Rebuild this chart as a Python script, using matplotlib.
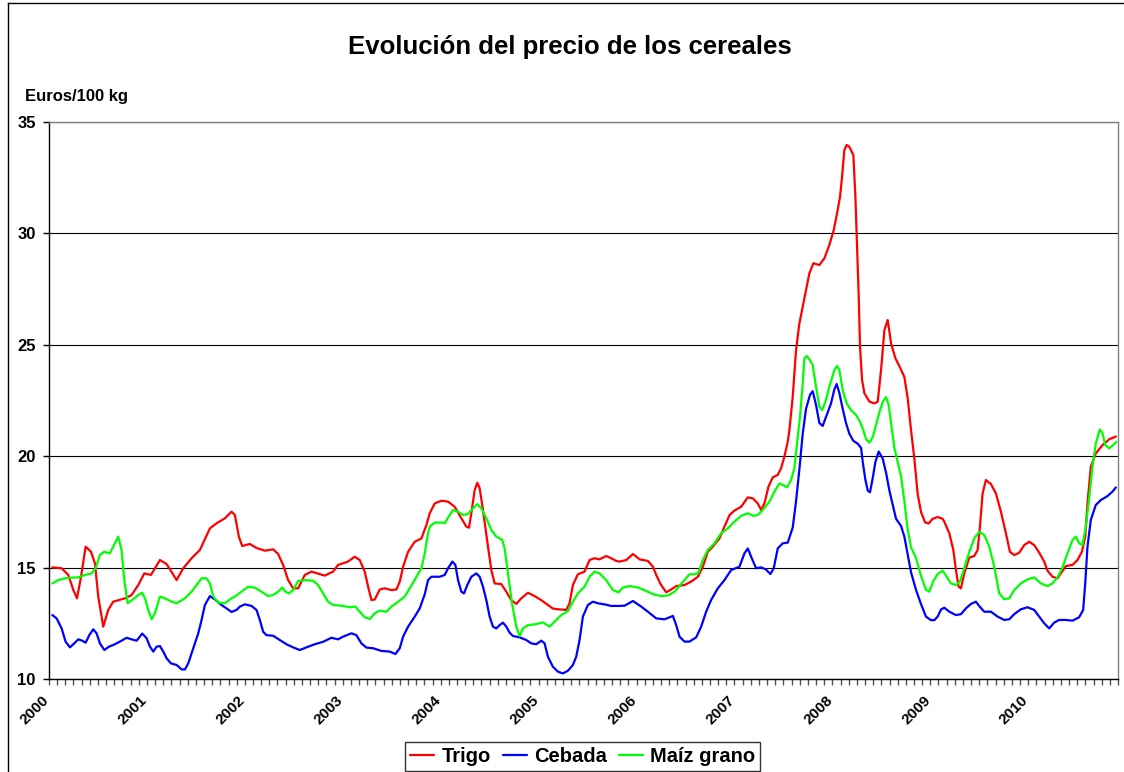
import numpy as np
import matplotlib
matplotlib.use("Agg")
import matplotlib.pyplot as plt
from matplotlib.lines import Line2D
from matplotlib.transforms import ScaledTranslation

plt.rcParams['font.family'] = ['Liberation Sans', 'DejaVu Sans']

title = "Evolución del precio de los cereales"
y_label = "Euros/100 kg"
series_names = ["Trigo", "Cebada", "Maíz grano"]
series_colors = ["#FF0000", "#0000FF", "#00FF00"]
years = list(range(2000, 2011))
y_ticks = [10, 15, 20, 25, 30, 35]

# time in years since January 2000, price in euros/100 kg
trigo_t = [0.034, 0.129, 0.197, 0.248, 0.286, 0.327, 0.374, 0.429, 0.469, 0.503, 0.554, 0.605, 0.656, 0.776, 0.844,
           0.912, 0.973, 1.041, 1.133, 1.201, 1.303, 1.371, 1.456, 1.541, 1.643, 1.711, 1.796, 1.864, 1.898, 1.939,
           1.973, 2.051, 2.119, 2.204, 2.289, 2.340, 2.391, 2.442, 2.493, 2.544, 2.578, 2.612, 2.680, 2.816, 2.901,
           2.952, 3.054, 3.122, 3.173, 3.224, 3.259, 3.293, 3.327, 3.378, 3.429, 3.497, 3.548, 3.582, 3.616, 3.667,
           3.735, 3.803, 3.854, 3.888, 3.939, 4.007, 4.075, 4.143, 4.211, 4.262, 4.289, 4.313, 4.347, 4.374, 4.398,
           4.432, 4.483, 4.517, 4.551, 4.619, 4.670, 4.721, 4.772, 4.823, 4.891, 4.959, 5.027, 5.095, 5.146, 5.197,
           5.282, 5.316, 5.350, 5.401, 5.469, 5.520, 5.571, 5.622, 5.690, 5.741, 5.792, 5.827, 5.895, 5.963, 6.031,
           6.116, 6.167, 6.201, 6.245, 6.303, 6.354, 6.405, 6.490, 6.558, 6.626, 6.677, 6.728, 6.779, 6.847, 6.898,
           6.950, 7.000, 7.068, 7.136, 7.187, 7.238, 7.272, 7.306, 7.347, 7.391, 7.442, 7.476, 7.510, 7.544, 7.561,
           7.595, 7.629, 7.663, 7.697, 7.731, 7.765, 7.806, 7.867, 7.918, 7.969, 8.014, 8.054, 8.078, 8.099, 8.122,
           8.146, 8.173, 8.214, 8.235, 8.252, 8.269, 8.282, 8.303, 8.327, 8.378, 8.429, 8.463, 8.497, 8.531, 8.565,
           8.599, 8.643, 8.684, 8.735, 8.769, 8.803, 8.837, 8.871, 8.905, 8.946, 8.983, 9.024, 9.075, 9.126, 9.143,
           9.194, 9.235, 9.262, 9.289, 9.313, 9.347, 9.398, 9.449, 9.483, 9.507, 9.534, 9.568, 9.619, 9.670, 9.721,
           9.772, 9.813, 9.857, 9.908, 9.959, 10.010, 10.061, 10.112, 10.163, 10.197, 10.248, 10.299, 10.333, 10.384,
           10.452, 10.503, 10.548, 10.582, 10.605, 10.639, 10.690, 10.759, 10.827, 10.895]
trigo_v = [15.01, 14.97, 14.67, 14.00, 13.62, 14.59, 15.94, 15.71, 15.19, 13.70, 12.35, 13.10, 13.47, 13.62, 13.77,
           14.22, 14.74, 14.67, 15.34, 15.16, 14.44, 14.97, 15.42, 15.79, 16.76, 16.99, 17.21, 17.51, 17.36, 16.39,
           15.97, 16.06, 15.88, 15.76, 15.82, 15.61, 15.12, 14.44, 14.07, 14.07, 14.37, 14.67, 14.82, 14.64, 14.82,
           15.12, 15.27, 15.49, 15.34, 14.82, 14.14, 13.54, 13.57, 14.02, 14.07, 13.99, 14.02, 14.37, 15.04, 15.71,
           16.16, 16.31, 16.91, 17.44, 17.88, 18.00, 17.96, 17.73, 17.21, 16.84, 16.79, 17.44, 18.48, 18.81, 18.56,
           17.58, 15.94, 14.89, 14.29, 14.26, 13.92, 13.54, 13.37, 13.62, 13.87, 13.72, 13.54, 13.32, 13.16, 13.13,
           13.10, 13.40, 14.22, 14.70, 14.82, 15.34, 15.42, 15.37, 15.52, 15.42, 15.30, 15.27, 15.34, 15.61, 15.37,
           15.30, 15.04, 14.67, 14.26, 13.89, 14.02, 14.17, 14.22, 14.37, 14.59, 15.04, 15.71, 15.94, 16.31, 16.84,
           17.36, 17.56, 17.73, 18.15, 18.11, 17.88, 17.59, 17.88, 18.63, 19.05, 19.16, 19.46, 19.98, 20.65, 21.17,
           22.67, 24.77, 25.96, 26.71, 27.46, 28.21, 28.66, 28.58, 28.88, 29.48, 30.15, 31.05, 31.65, 32.55, 33.74,
           33.97, 33.89, 33.52, 31.65, 29.40, 27.16, 24.92, 23.42, 22.82, 22.45, 22.37, 22.45, 23.87, 25.66, 26.11,
           25.07, 24.40, 24.04, 23.56, 22.60, 21.17, 19.89, 18.30, 17.50, 17.03, 16.98, 17.19, 17.27, 17.19, 17.06,
           16.54, 15.79, 14.89, 14.14, 14.07, 14.74, 15.45, 15.52, 15.79, 16.84, 18.33, 18.93, 18.75, 18.33, 17.51,
           16.54, 15.71, 15.56, 15.67, 16.01, 16.16, 16.01, 15.67, 15.27, 14.86, 14.59, 14.52, 14.74, 15.07,
           15.12, 15.34, 15.71, 16.39, 17.88, 19.53, 20.13, 20.50, 20.76, 20.88]

cebada_t = [0.034, 0.078, 0.129, 0.170, 0.214, 0.265, 0.299, 0.340, 0.374, 0.412, 0.452, 0.486, 0.520, 0.565, 0.612,
            0.673, 0.741, 0.793, 0.844, 0.895, 0.952, 0.997, 1.031, 1.065, 1.099, 1.133, 1.167, 1.201, 1.245, 1.303,
            1.354, 1.388, 1.422, 1.473, 1.524, 1.558, 1.592, 1.643, 1.694, 1.762, 1.813, 1.864, 1.915, 1.949, 2.000,
            2.068, 2.119, 2.153, 2.187, 2.221, 2.289, 2.357, 2.425, 2.493, 2.561, 2.629, 2.714, 2.799, 2.884, 2.952,
            3.003, 3.088, 3.139, 3.190, 3.241, 3.310, 3.395, 3.480, 3.537, 3.582, 3.616, 3.667, 3.735, 3.786, 3.837,
            3.871, 3.905, 3.990, 4.041, 4.075, 4.119, 4.150, 4.177, 4.211, 4.238, 4.272, 4.313, 4.364, 4.398, 4.432,
            4.466, 4.500, 4.534, 4.568, 4.602, 4.636, 4.670, 4.704, 4.738, 4.806, 4.874, 4.925, 4.976, 5.027, 5.061,
            5.095, 5.146, 5.197, 5.248, 5.299, 5.350, 5.384, 5.418, 5.452, 5.503, 5.554, 5.605, 5.673, 5.741, 5.827,
            5.878, 5.963, 6.048, 6.116, 6.201, 6.286, 6.337, 6.371, 6.405, 6.439, 6.490, 6.541, 6.609, 6.660, 6.711,
            6.762, 6.830, 6.898, 6.966, 7.051, 7.102, 7.136, 7.170, 7.221, 7.272, 7.320, 7.367, 7.401, 7.442, 7.493,
            7.544, 7.595, 7.629, 7.663, 7.697, 7.731, 7.772, 7.799, 7.833, 7.867, 7.901, 7.952, 7.986, 8.020, 8.044,
            8.071, 8.105, 8.139, 8.173, 8.214, 8.259, 8.293, 8.310, 8.337, 8.361, 8.384, 8.412, 8.439, 8.473, 8.514,
            8.548, 8.582, 8.616, 8.650, 8.701, 8.735, 8.769, 8.803, 8.854, 8.905, 8.956, 9.007, 9.041, 9.075, 9.109,
            9.143, 9.194, 9.262, 9.313, 9.364, 9.415, 9.466, 9.500, 9.551, 9.619, 9.687, 9.755, 9.806, 9.857, 9.925,
            9.993, 10.061, 10.112, 10.163, 10.214, 10.265, 10.316, 10.384, 10.452, 10.520, 10.561, 10.582, 10.605,
            10.639, 10.690, 10.741, 10.809, 10.860, 10.895]
cebada_v = [12.87, 12.72, 12.27, 11.67, 11.42, 11.63, 11.78, 11.72, 11.63, 11.97, 12.23, 12.05, 11.60, 11.30, 11.45,
            11.56, 11.72, 11.85, 11.78, 11.72, 12.04, 11.83, 11.45, 11.23, 11.45, 11.48, 11.23, 10.93, 10.70, 10.63,
            10.43, 10.43, 10.70, 11.38, 12.05, 12.65, 13.32, 13.72, 13.57, 13.32, 13.17, 13.01, 13.10, 13.25, 13.35,
            13.28, 13.10, 12.65, 12.12, 11.97, 11.94, 11.75, 11.56, 11.42, 11.30, 11.42, 11.56, 11.67, 11.85, 11.78,
            11.90, 12.05, 11.97, 11.60, 11.41, 11.38, 11.26, 11.23, 11.12, 11.38, 11.90, 12.35, 12.80, 13.17, 13.80,
            14.44, 14.59, 14.59, 14.67, 14.97, 15.27, 15.12, 14.44, 13.92, 13.84, 14.22, 14.59, 14.74, 14.59, 14.14,
            13.54, 12.80, 12.35, 12.27, 12.42, 12.53, 12.35, 12.08, 11.93, 11.87, 11.75, 11.60, 11.56, 11.72, 11.60,
            11.00, 10.55, 10.33, 10.25, 10.37, 10.63, 11.00, 11.75, 12.80, 13.32, 13.47, 13.40, 13.35, 13.28, 13.28,
            13.29, 13.50, 13.25, 13.02, 12.72, 12.68, 12.77, 12.83, 12.42, 11.90, 11.68, 11.68, 11.87, 12.35, 13.02,
            13.55, 14.07, 14.44, 14.89, 15.04, 15.64, 15.86, 15.49, 14.97, 15.01, 14.92, 14.71, 14.97, 15.86, 16.09,
            16.12, 16.80, 17.98, 19.42, 21.01, 22.13, 22.76, 22.92, 22.30, 21.49, 21.36, 21.97, 22.37, 23.00, 23.24,
            22.84, 22.13, 21.49, 21.01, 20.69, 20.56, 20.37, 19.74, 18.94, 18.46, 18.38, 19.02, 19.74, 20.21, 19.89,
            19.26, 18.46, 17.82, 17.19, 16.87, 16.39, 15.59, 14.79, 14.00, 13.36, 12.80, 12.64, 12.64, 12.80, 13.12,
            13.20, 13.02, 12.87, 12.91, 13.17, 13.37, 13.47, 13.27, 13.02, 13.02, 12.80, 12.65, 12.68, 12.91, 13.13,
            13.22, 13.10, 12.80, 12.50, 12.27, 12.53, 12.65, 12.65, 12.62, 12.77, 13.10, 14.29, 15.94,
            17.14, 17.81, 18.03, 18.21, 18.41, 18.60]

maiz_t = [0.034, 0.095, 0.163, 0.231, 0.299, 0.367, 0.435, 0.476, 0.520, 0.565, 0.622, 0.673, 0.707, 0.741, 0.769,
          0.803, 0.850, 0.912, 0.952, 0.980, 1.014, 1.048, 1.082, 1.133, 1.184, 1.252, 1.303, 1.388, 1.456, 1.507,
          1.558, 1.609, 1.643, 1.677, 1.728, 1.796, 1.864, 1.898, 1.966, 2.034, 2.102, 2.170, 2.238, 2.289, 2.340,
          2.381, 2.415, 2.449, 2.493, 2.544, 2.612, 2.697, 2.748, 2.799, 2.850, 2.901, 2.986, 3.071, 3.129, 3.173,
          3.224, 3.276, 3.327, 3.378, 3.446, 3.497, 3.565, 3.633, 3.684, 3.752, 3.803, 3.837, 3.864, 3.888, 3.939,
          4.007, 4.041, 4.082, 4.126, 4.177, 4.228, 4.279, 4.330, 4.374, 4.415, 4.466, 4.517, 4.568, 4.629, 4.653,
          4.687, 4.728, 4.772, 4.806, 4.840, 4.891, 4.959, 5.044, 5.112, 5.180, 5.231, 5.299, 5.350, 5.401, 5.469,
          5.520, 5.571, 5.622, 5.690, 5.758, 5.816, 5.861, 5.929, 6.014, 6.099, 6.167, 6.252, 6.320, 6.388, 6.439,
          6.490, 6.541, 6.592, 6.633, 6.677, 6.728, 6.796, 6.864, 6.932, 7.000, 7.068, 7.136, 7.197, 7.238, 7.289,
          7.357, 7.408, 7.459, 7.493, 7.537, 7.578, 7.612, 7.639, 7.670, 7.697, 7.714, 7.738, 7.765, 7.799, 7.833,
          7.867, 7.895, 7.929, 7.969, 8.020, 8.048, 8.071, 8.105, 8.146, 8.190, 8.241, 8.282, 8.316, 8.344, 8.378,
          8.412, 8.446, 8.480, 8.514, 8.548, 8.575, 8.599, 8.633, 8.667, 8.701, 8.735, 8.769, 8.803, 8.854, 8.905,
          8.956, 8.990, 9.031, 9.075, 9.126, 9.167, 9.211, 9.262, 9.303, 9.347, 9.398, 9.449, 9.500, 9.551, 9.602,
          9.653, 9.704, 9.755, 9.806, 9.857, 9.925, 9.993, 10.061, 10.129, 10.197, 10.248, 10.299, 10.350, 10.401,
          10.452, 10.486, 10.520, 10.554, 10.588, 10.622, 10.656, 10.690, 10.731, 10.759, 10.786, 10.827, 10.867,
          10.901]
maiz_v = [14.29, 14.44, 14.52, 14.55, 14.56, 14.67, 14.74, 14.97, 15.57, 15.71, 15.64, 16.09, 16.39, 15.79, 14.44,
          13.40, 13.55, 13.77, 13.87, 13.62, 13.10, 12.68, 12.95, 13.70, 13.62, 13.47, 13.40, 13.62, 13.92, 14.22,
          14.52, 14.52, 14.29, 13.70, 13.43, 13.40, 13.62, 13.70, 13.92, 14.14, 14.10, 13.92, 13.72, 13.77, 13.92,
          14.10, 13.92, 13.84, 13.99, 14.40, 14.44, 14.41, 14.22, 13.84, 13.47, 13.32, 13.29, 13.22, 13.25, 13.02,
          12.77, 12.69, 12.95, 13.07, 13.02, 13.25, 13.47, 13.70, 14.07, 14.59, 14.97, 15.64, 16.39, 16.84, 17.02,
          17.02, 16.99, 17.29, 17.58, 17.51, 17.36, 17.41, 17.66, 17.85, 17.66, 17.21, 16.69, 16.39, 16.24, 15.86,
          14.74, 13.40, 12.35, 11.93, 12.27, 12.42, 12.45, 12.54, 12.35, 12.65, 12.87, 13.05, 13.47, 13.84, 14.14,
          14.59, 14.82, 14.74, 14.44, 13.99, 13.89, 14.11, 14.17, 14.11, 13.95, 13.81, 13.72, 13.75, 13.92, 14.17,
          14.44, 14.70, 14.70, 14.77, 15.34, 15.79, 16.09, 16.54, 16.76, 17.06, 17.32, 17.44, 17.32, 17.36, 17.59,
          17.96, 18.41, 18.78, 18.71, 18.60, 18.93, 19.46, 20.58, 21.80, 23.27, 24.39, 24.50, 24.35, 24.09, 23.12,
          22.22, 22.07, 22.45, 23.12, 23.87, 24.05, 23.87, 22.97, 22.37, 22.07, 21.85, 21.55, 21.17, 20.77, 20.61,
          20.85, 21.41, 21.97, 22.44, 22.65, 22.29, 21.49, 20.37, 19.74, 19.10, 17.98, 16.71, 15.91, 15.43, 14.63,
          14.00, 13.92, 14.40, 14.71, 14.86, 14.59, 14.29, 14.22, 14.37, 14.97, 15.71, 16.31, 16.61, 16.46, 15.94,
          15.04, 13.84, 13.58, 13.62, 13.99, 14.29, 14.47, 14.56, 14.29, 14.17, 14.29, 14.56, 15.01, 15.64,
          16.24, 16.39, 16.09, 16.01, 16.84, 18.11, 19.53, 20.58, 21.20, 21.03, 20.50, 20.35, 20.50,
          20.65]

W, H = 1124, 772
fig = plt.figure(figsize=(W / 100, H / 100), dpi=100)
ax = fig.add_axes([49 / W, 1 - 679 / H, (1118 - 49) / W, (679 - 122) / H])

series = [(trigo_t, trigo_v), (cebada_t, cebada_v), (maiz_t, maiz_v)]
for (t, v), name, col in zip(series, series_names, series_colors):
    ax.plot(2000 + np.array(t), v, color=col, lw=1.6, label=name,
            solid_joinstyle='round', solid_capstyle='round')

ax.set_xlim(2000, 2010.91)
ax.set_ylim(10, 35)
ax.set_yticks(y_ticks)
ax.set_yticklabels([str(v) for v in y_ticks], fontsize=12, fontweight='bold')
ax.yaxis.grid(True, color='black', lw=0.8)
ax.set_axisbelow(True)

ax.set_xticks(years)
ax.set_xticks(np.arange(2000, 2010.92, 1 / 12), minor=True)
ax.set_xticklabels([str(y) for y in years], fontsize=11, fontweight='bold',
                   rotation=45, ha='right', va='top', rotation_mode='anchor')
ax.tick_params(axis='x', which='both', direction='out', length=4, width=1, color='#555555', pad=6)
ax.tick_params(axis='y', which='major', direction='out', length=4.5, width=1, pad=5)
shift = ScaledTranslation(-7 / 100, 0, fig.dpi_scale_trans)
for lab in ax.get_xticklabels():
    lab.set_transform(lab.get_transform() + shift)

for s in ['left', 'bottom']:
    ax.spines[s].set_color('black')
    ax.spines[s].set_linewidth(1)
for s in ['top', 'right']:
    ax.spines[s].set_color('#808080')
    ax.spines[s].set_linewidth(1)

fig.text(570 / W, 1 - 47 / H, title, ha='center', va='center', fontsize=18.5, fontweight='bold')
fig.text(25 / W, 1 - 96 / H, y_label, ha='left', va='center', fontsize=12, fontweight='bold')

# outer chart frame (left and top edges visible in the crop)
fig.add_artist(Line2D([7.5 / W, 7.5 / W], [0, 1 - 2.5 / H], color='black', lw=1, transform=fig.transFigure))
fig.add_artist(Line2D([7.5 / W, 1], [1 - 2.5 / H, 1 - 2.5 / H], color='black', lw=1, transform=fig.transFigure))

leg = fig.legend(loc='upper left', bbox_to_anchor=(405 / W, 1 - 742 / H), ncol=3,
                 prop={'size': 14.5, 'weight': 'bold'}, frameon=True, fancybox=False,
                 handlelength=1.2, handletextpad=0.35, columnspacing=0.6, borderpad=0.25,
                 borderaxespad=0)
leg.get_frame().set_edgecolor('black')
leg.get_frame().set_linewidth(1)

fig.savefig('out.png', dpi=100)
